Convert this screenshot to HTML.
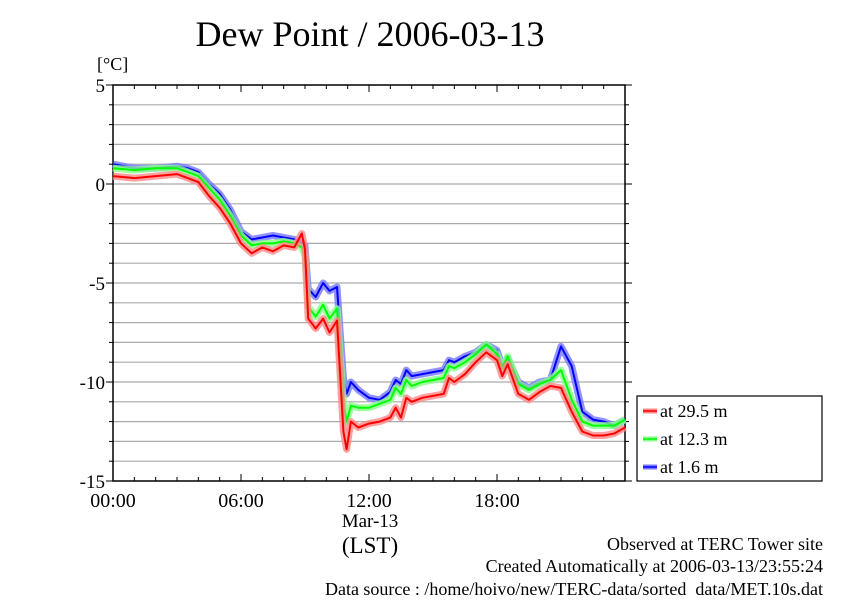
<!DOCTYPE html>
<html><head><meta charset="utf-8"><style>
body{margin:0;background:#fff}
svg text{font-family:"Liberation Serif",serif;fill:#000}
</style></head><body>
<svg width="842" height="595" xmlns="http://www.w3.org/2000/svg">
<text x="370" y="46" font-size="36" text-anchor="middle">Dew Point / 2006-03-13</text>
<text x="97" y="70" font-size="18">[°C]</text>
<g id="grid"></g>
<g id="axes"></g>
<g id="series"></g>
<rect x="637" y="396" width="185" height="85" fill="#fff" stroke="#000" stroke-width="1.2"/>
<g id="legend"></g>
<text x="370" y="527" font-size="19" text-anchor="middle">Mar-13</text>
<text x="370" y="553" font-size="23" text-anchor="middle">(LST)</text>
<text x="823" y="550" font-size="18" text-anchor="end">Observed at TERC Tower site</text>
<text x="823" y="572" font-size="18" text-anchor="end">Created Automatically at 2006-03-13/23:55:24</text>
<text x="823" y="595" font-size="18" text-anchor="end">Data source : /home/hoivo/new/TERC-data/sorted_data/MET.10s.dat</text>
</svg>
<script>
const hours=[0,1,2,3,3.5,4,4.5,5,5.5,6,6.5,7,7.5,8,8.5,8.85,9.0,9.15,9.5,9.85,10.15,10.5,10.8,10.95,11.15,11.5,12,12.5,13,13.25,13.5,13.75,14,14.5,15,15.5,15.75,16,16.5,17,17.5,18,18.25,18.5,19,19.5,20,20.5,21,21.5,22,22.5,23,23.5,24];
const red=[0.4,0.3,0.4,0.5,0.3,0.1,-0.6,-1.2,-2.0,-3.0,-3.5,-3.2,-3.4,-3.1,-3.2,-2.5,-3.3,-6.8,-7.3,-6.8,-7.5,-6.9,-12.5,-13.4,-12.0,-12.3,-12.1,-12.0,-11.8,-11.3,-11.8,-10.8,-11.0,-10.8,-10.7,-10.6,-9.8,-10.0,-9.6,-9.0,-8.5,-8.9,-9.7,-9.1,-10.6,-10.9,-10.5,-10.2,-10.3,-11.5,-12.5,-12.7,-12.7,-12.6,-12.3];
const green=[0.8,0.7,0.8,0.8,0.6,0.4,-0.2,-0.8,-1.6,-2.6,-3.1,-3.0,-3.0,-2.9,-3.0,-3.2,-3.6,-6.2,-6.7,-6.1,-6.8,-6.3,-11.0,-12.0,-11.2,-11.3,-11.3,-11.1,-10.9,-10.3,-10.6,-9.9,-10.2,-10.0,-9.9,-9.8,-9.2,-9.3,-9.0,-8.6,-8.1,-8.6,-9.3,-8.7,-10.1,-10.4,-10.1,-9.9,-9.4,-10.9,-12.0,-12.2,-12.2,-12.2,-11.9];
const blue=[1.0,0.8,0.8,0.9,0.8,0.6,0.0,-0.5,-1.3,-2.4,-2.8,-2.7,-2.6,-2.7,-2.8,-3.0,-3.1,-5.3,-5.7,-5.0,-5.4,-5.2,-9.8,-10.6,-10.0,-10.4,-10.8,-10.9,-10.5,-9.9,-10.1,-9.4,-9.7,-9.6,-9.5,-9.4,-8.9,-9.0,-8.7,-8.5,-8.1,-8.4,-9.2,-8.8,-10.0,-10.3,-10.0,-9.9,-8.2,-9.2,-11.5,-11.9,-12.0,-12.2,-11.9];
const yTicks=[5,0,-5,-10,-15];
const xTickLabels=["00:00","06:00","12:00","18:00"];
const NS="http://www.w3.org/2000/svg";
const X0=113,X1=625,Y0=85,Y1=481;
const xs=h=>X0+(X1-X0)*h/24;
const ys=v=>Y0+(Y1-Y0)*(5-v)/20;
function mk(tag,attrs,parent){const e=document.createElementNS(NS,tag);for(const k in attrs)e.setAttribute(k,attrs[k]);parent.appendChild(e);return e;}
const grid=document.getElementById('grid'),axes=document.getElementById('axes'),series=document.getElementById('series'),legend=document.getElementById('legend');
for(let v=4;v>-15;v--){const l=mk('line',{x1:X0,x2:X1,y1:ys(v),y2:ys(v),stroke:'#aaa','stroke-width':1.2},grid);

}
const frame=mk('rect',{x:X0,y:Y0,width:X1-X0,height:Y1-Y0,fill:'none',stroke:'#000','stroke-width':1.5},axes);


for(let h=0;h<=24;h++){const L=h%6==0?7:4;
mk('line',{x1:xs(h),x2:xs(h),y1:Y0,y2:Y0+L,stroke:'#000'},axes);
mk('line',{x1:xs(h),x2:xs(h),y1:Y1,y2:Y1-L,stroke:'#000'},axes);}
for(let v=5;v>=-15;v--){const L=v%5==0?7:4;
mk('line',{x1:X0,x2:X0-L,y1:ys(v),y2:ys(v),stroke:'#000'},axes);
mk('line',{x1:X1,x2:X1+L,y1:ys(v),y2:ys(v),stroke:'#000'},axes);}
yTicks.forEach(v=>{const t=mk('text',{x:105,y:ys(v)+7,'font-size':19,'text-anchor':'end'},axes);t.textContent=v;

});
xTickLabels.forEach((s,i)=>{const t=mk('text',{x:xs(i*6),y:507,'font-size':20,'text-anchor':'middle'},axes);t.textContent=s;

});
const defs=[[blue,'#0000ff','#7777ff','series-1-6m'],[green,'#00ff00','#88ff88','series-12-3m'],[red,'#ff0000','#ff8888','series-29-5m']];
defs.forEach(([d,c,lc,nm])=>{
const pts=hours.map((h,i)=>xs(h).toFixed(1)+','+ys(d[i]).toFixed(1)).join(' ');
const halo=mk('polyline',{points:pts,fill:'none',stroke:lc,'stroke-width':7,'stroke-linejoin':'round','opacity':0.8},series);


const ln=mk('polyline',{points:pts,fill:'none',stroke:c,'stroke-width':2,'stroke-linejoin':'round'},series);

});
const legItems=[['#ff0000','#ff8888','at 29.5 m'],['#00ff00','#88ff88','at 12.3 m'],['#0000ff','#7777ff','at 1.6 m']];
legItems.forEach(([c,lc,lab],i)=>{const y=411+i*28;
const g=mk('g',{},legend);


mk('line',{x1:643,x2:657,y1:y,y2:y,stroke:lc,'stroke-width':5},g);
mk('line',{x1:643,x2:657,y1:y,y2:y,stroke:c,'stroke-width':1.5},g);
const t=mk('text',{x:660,y:y+6,'font-size':18},g);t.textContent=lab;});
</script>
</body></html>
